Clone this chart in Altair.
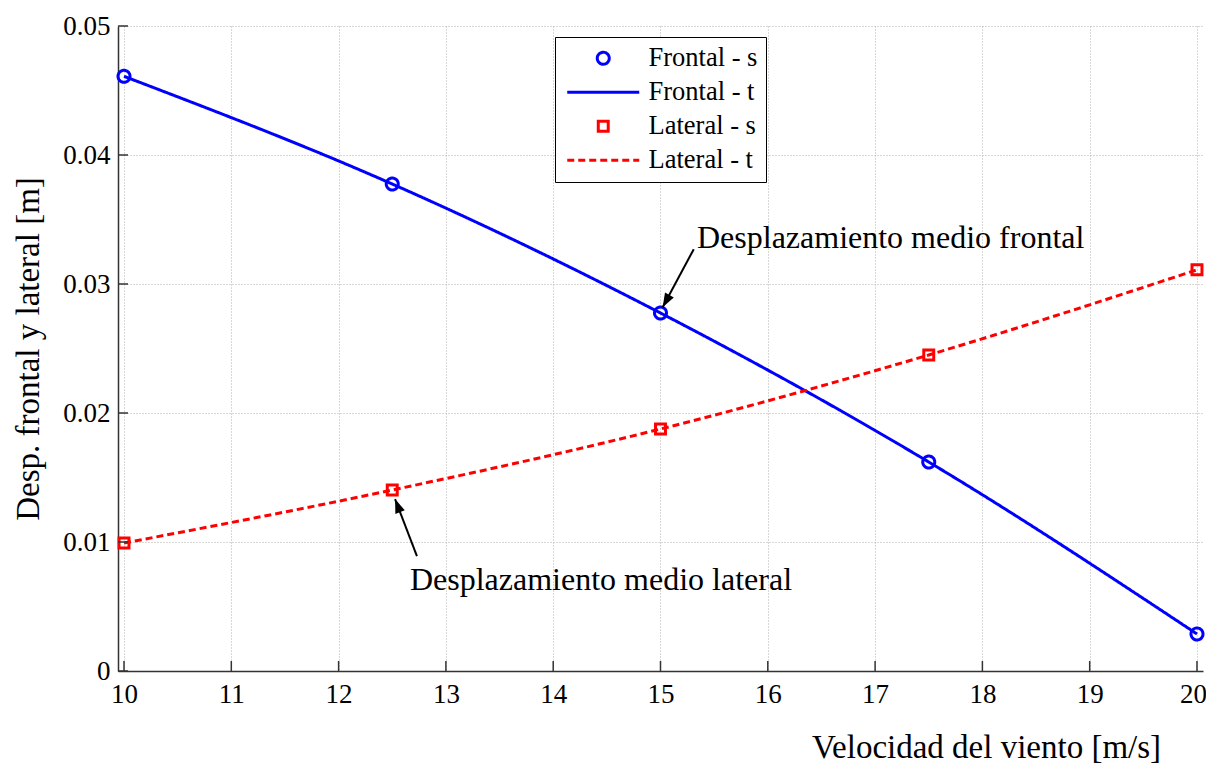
import altair as alt
import pandas as pd

# ---- data ----
speed = [10, 12.5, 15, 17.5, 20]
frontal = [0.0461, 0.03775, 0.02775, 0.0162, 0.00287]
lateral = [0.00992, 0.01403, 0.01876, 0.0245, 0.0311]
x_ticks = [10, 11, 12, 13, 14, 15, 16, 17, 18, 19, 20]
y_ticks = [0, 0.01, 0.02, 0.03, 0.04, 0.05]
series_names = ["Frontal - s", "Frontal - t", "Lateral - s", "Lateral - t"]

annot_text = ["Desplazamiento medio frontal", "Desplazamiento medio lateral"]
annot_x = [15.34, 12.665]
annot_y = [0.0328, 0.00628]
arrow_tail_x = [15.31, 12.73]
arrow_tail_y = [0.0327, 0.0089]
arrow_tip_x = [15.02, 12.526]
arrow_tip_y = [0.0282, 0.01333]
arrow_angle = [208.9, 338.9]

FONT = "Liberation Serif"
W, H = 1085, 645

line_df = pd.DataFrame({
    "x": speed + speed,
    "y": frontal + lateral,
    "series": ["Frontal - t"] * len(speed) + ["Lateral - t"] * len(speed),
})
pt_df = pd.DataFrame({
    "x": speed + speed,
    "y": frontal + lateral,
    "series": ["Frontal - s"] * len(speed) + ["Lateral - s"] * len(speed),
})
annot_df = pd.DataFrame({"x": annot_x, "y": annot_y, "label": annot_text})
arrow_df = pd.DataFrame({
    "x": arrow_tail_x, "y": arrow_tail_y,
    "x2": arrow_tip_x, "y2": arrow_tip_y,
    "xt": arrow_tip_x, "yt": arrow_tip_y,
    "angle": arrow_angle,
})
xt_df = pd.DataFrame({"x": x_ticks})
yt_df = pd.DataFrame({"y": y_ticks})

LINE_SYM = "M-6,0H6"
SQUARE_SYM = "M-0.83,-0.83H0.83V0.83H-0.83Z"
ARROW_SYM = "M0,0L-0.36,1L0.36,1Z"

x_scale = alt.Scale(domain=[9.944, 20.056], nice=False, zero=False)
y_scale = alt.Scale(domain=[0, 0.05], nice=False, zero=False)

color_scale = alt.Scale(domain=series_names, range=["#0000ff", "#0000ff", "#ff0000", "#ff0000"])
shape_scale = alt.Scale(domain=series_names, range=["circle", LINE_SYM, SQUARE_SYM, LINE_SYM])
dash_scale = alt.Scale(domain=series_names, range=[[1, 0], [1, 0], [1, 0], [7, 4]])

legend = alt.Legend(
    title=None, orient="none", legendX=437, legendY=11,
    labelFont=FONT, labelFontSize=26.5, labelColor="black",
    symbolSize=144, symbolStrokeWidth=3, symbolOffset=27, labelOffset=32,
    strokeColor="black", fillColor="white", padding=8, rowPadding=7,
)

x_axis = alt.Axis(
    values=x_ticks, format="d", title="Velocidad del viento [m/s]",
    titleX=868, titleY=86, titleAlign="center", titleBaseline="alphabetic",
    ticks=False, tickSize=0, labelPadding=10, labelFlush=False, labelOverlap=False,
    labelOffset={"condition": {"test": "datum.value == 20", "value": -4}, "value": 0},
)
y_axis = alt.Axis(
    values=y_ticks, format=".2~f", title="Desp. frontal y lateral [m]",
    titleX=-80, titleY=H / 2, titleAlign="center", titleBaseline="alphabetic",
    ticks=False, tickSize=0, labelPadding=8, labelFlush=False, labelOverlap=False,
)

lines = alt.Chart(line_df).mark_line(strokeWidth=3, interpolate="monotone").encode(
    x=alt.X("x:Q", scale=x_scale, axis=x_axis),
    y=alt.Y("y:Q", scale=y_scale, axis=y_axis),
    color=alt.Color("series:N", scale=color_scale, legend=legend),
    strokeDash=alt.StrokeDash("series:N", scale=dash_scale, legend=legend),
)

points = alt.Chart(pt_df).mark_point(filled=False, size=144, strokeWidth=3, opacity=1).encode(
    x=alt.X("x:Q"),
    y=alt.Y("y:Q"),
    color=alt.Color("series:N", scale=color_scale, legend=legend),
    shape=alt.Shape("series:N", scale=shape_scale, legend=legend),
    strokeDash=alt.StrokeDash("series:N", scale=dash_scale, legend=legend),
)

xticks = alt.Chart(xt_df).mark_rule(color="#333333", strokeWidth=1.5).encode(
    x=alt.X("x:Q"), y=alt.value(H), y2=alt.value(H - 10)
)
yticks = alt.Chart(yt_df).mark_rule(color="#333333", strokeWidth=1.5).encode(
    y=alt.Y("y:Q"), x=alt.value(0), x2=alt.value(10)
)

arrows = alt.Chart(arrow_df).mark_rule(color="black", strokeWidth=2).encode(
    x=alt.X("x:Q"), y=alt.Y("y:Q"), x2="x2:Q", y2="y2:Q"
)
heads = alt.Chart(arrow_df).mark_point(
    shape=ARROW_SYM, size=784, filled=True, color="black", opacity=1, strokeWidth=0
).encode(
    x=alt.X("xt:Q"), y=alt.Y("yt:Q"), angle=alt.Angle("angle:Q", scale=None)
)
texts = alt.Chart(annot_df).mark_text(
    align="left", baseline="alphabetic", font=FONT, fontSize=32, color="black"
).encode(x=alt.X("x:Q"), y=alt.Y("y:Q"), text="label:N")

chart = alt.layer(lines, points, xticks, yticks, arrows, heads, texts).properties(
    width=W, height=H,
    autosize=alt.AutoSizeParams(type="none"),
    padding={"left": 110, "top": 18, "right": 3, "bottom": 94},
).configure_view(stroke=None).configure_axis(
    labelFont=FONT, labelFontSize=27, labelColor="black",
    titleFont=FONT, titleFontSize=33, titleColor="black", titleFontWeight="normal",
    domainColor="#333333", domainWidth=1.5,
    gridColor="#b0b0b0", gridDash=[1, 2], gridWidth=1,
).configure_legend(symbolFillColor="transparent")

chart.save("out.html", embed_options={"renderer": "svg", "actions": False})
